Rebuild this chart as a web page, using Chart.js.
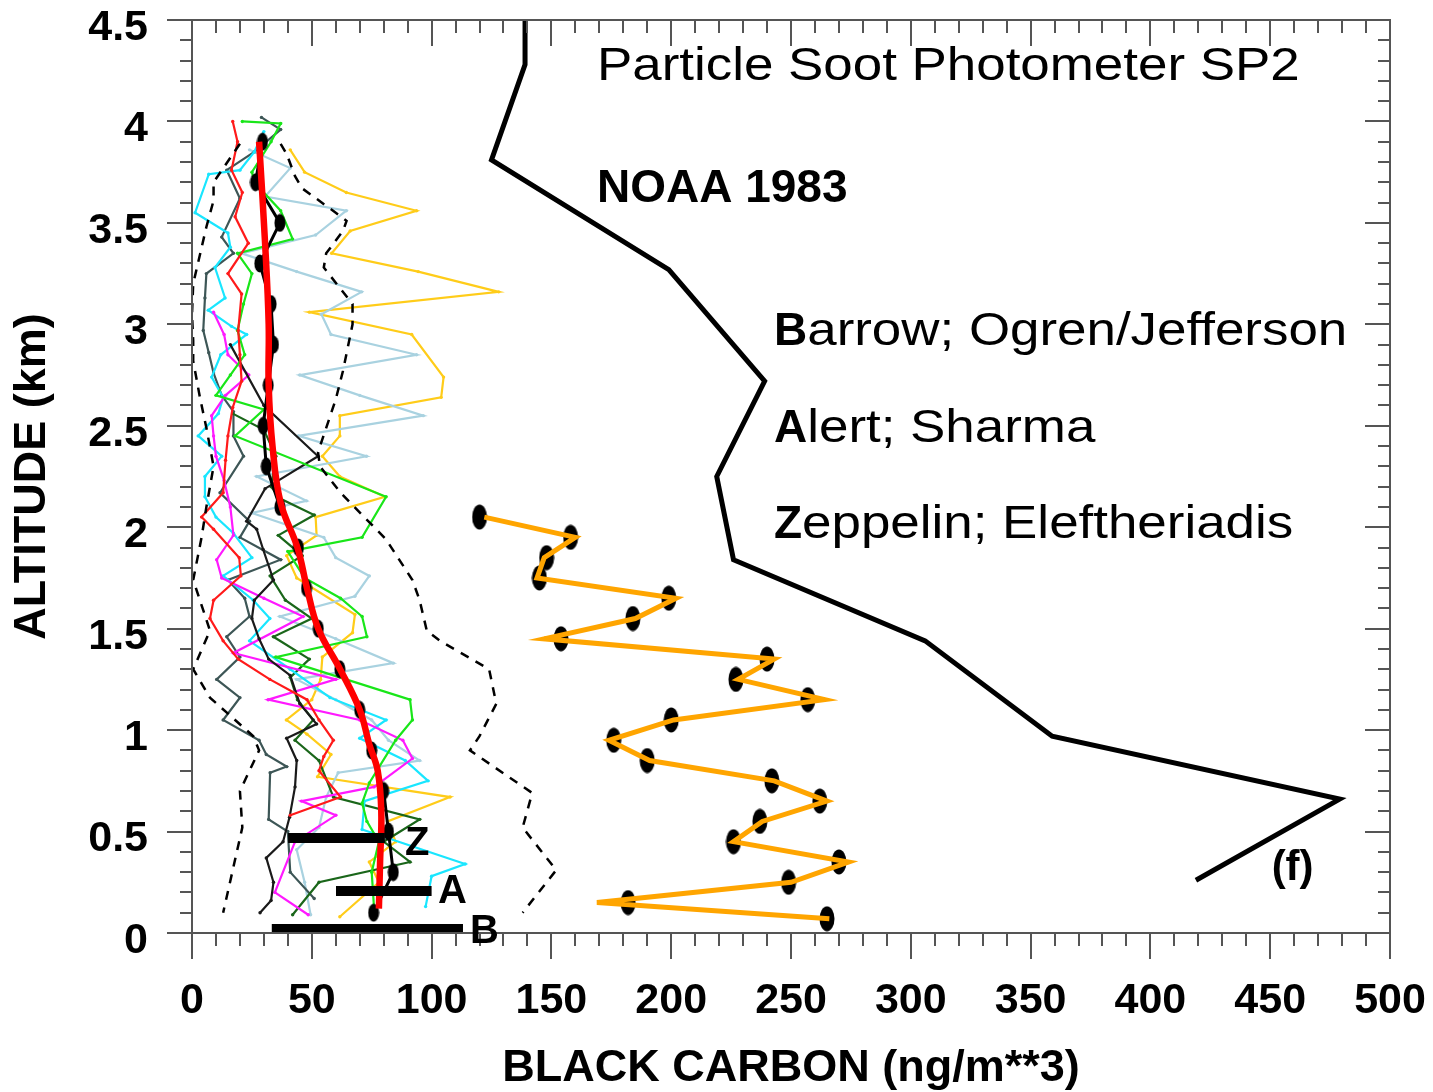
<!DOCTYPE html>
<html lang="en">
<head>
<meta charset="UTF-8">
<title>Black carbon profiles</title>
<style>
    html, body { margin: 0; padding: 0; background: #fff; }
    #bcChart { display: block; }
</style>
</head>
<body>
<canvas id="bcChart" width="1433" height="1092"></canvas>
<script src="https://cdn.jsdelivr.net/npm/chart.js@4.4.0/dist/chart.umd.min.js"></script>
<script>
// each profile is a list of [black carbon (ng/m3), altitude (km)]
const redProfile = [[17,4.0],[19,3.9],[16.5,3.76],[21,3.65],[18,3.53],[23.5,3.4],[15,3.25],[20.7,3.15],[19.3,2.97],[20,2.85],[20.7,2.72],[17,2.59],[15,2.45],[14,2.33],[13,2.17],[4,2.05],[9,1.99],[19.7,1.85],[20.4,1.76],[9,1.64],[7.5,1.55],[13,1.44],[19.3,1.35],[32.5,1.25],[48,1.15],[53,1.05],[59,0.95],[55,0.87],[53,0.8],[62,0.67],[41,0.58]];
const greenProfile = [[21,4.0],[37,3.99],[33,3.9],[25,3.75],[26,3.7],[37,3.56],[42,3.42],[19,3.35],[25,3.25],[21.5,3.1],[19,2.97],[22,2.85],[16,2.75],[10,2.65],[30,2.58],[18,2.45],[81,2.15],[71,1.95],[40,1.88],[47,1.75],[62,1.65],[71,1.56],[73,1.46],[35,1.36],[91,1.15],[92,1.05],[85,0.95],[74,0.74],[71,0.64],[73,0.55],[78,0.45],[75,0.3],[76,0.12]];
const slateProfile = [[29,4.02],[37,3.96],[26,3.85],[14.5,3.76],[20,3.62],[12.4,3.43],[17.3,3.35],[6,3.25],[5.4,3.13],[4.7,2.97],[7,2.86],[9,2.76],[12.4,2.65],[17.3,2.57],[17.3,2.45],[21.5,2.35],[11.7,2.17],[24,2.03],[20,1.95],[37,1.84],[15,1.74],[22,1.65],[24,1.56],[14.5,1.46],[20,1.36],[10.3,1.25],[20,1.16],[13,1.05],[28,0.95],[31,0.88],[39.5,0.82],[32.6,0.79],[32,0.56],[40,0.5],[41,0.3],[51,0.17]];
const cyanProfile = [[30,3.95],[26,3.85],[20,3.76],[7,3.74],[1.3,3.55],[15,3.45],[16,3.38],[9.6,3.28],[13.8,3.13],[6.8,3.07],[16.5,2.99],[22.8,2.95],[12,2.85],[8.2,2.74],[13,2.64],[11,2.56],[2.6,2.45],[12.4,2.35],[5.4,2.25],[5.4,2.15],[10,2.05],[17.3,1.97],[25,1.85],[13,1.76],[25.6,1.64],[32.5,1.55],[24,1.44],[41,1.3],[57.6,1.16],[81,1.05],[70,0.96],[89,0.85],[98.5,0.75],[72,0.65],[71,0.51],[114,0.34],[100,0.28],[97.5,0.13]];
const lightBlueProfile = [[24,3.86],[41,3.77],[30.5,3.63],[64.4,3.56],[51.6,3.44],[20.7,3.35],[43.7,3.26],[70.8,3.16],[54,3.05],[58,2.95],[93.7,2.85],[45,2.75],[70,2.65],[96.5,2.55],[44.4,2.45],[72.8,2.35],[27,2.25],[47.8,2.13],[25,2.07],[55,1.95],[60,1.85],[74,1.76],[68,1.66],[36.7,1.56],[60,1.45],[84,1.33],[43.7,1.25],[60,1.15],[75,1.05],[82,0.95],[95,0.85],[61,0.79],[56,0.67],[53,0.52],[43.7,0.41],[47,0.25],[49.5,0.09]];
const goldProfile = [[41,3.86],[47,3.75],[64.4,3.65],[93.7,3.56],[66,3.46],[58.3,3.35],[94.4,3.26],[128,3.16],[49,3.06],[91.7,2.95],[105,2.74],[104,2.64],[61.7,2.55],[61.7,2.45],[54.4,2.35],[61.7,2.25],[80.5,2.15],[51.6,2.05],[52,1.96],[39.5,1.86],[43.7,1.75],[68,1.57],[67,1.48],[54.4,1.36],[53.7,1.25],[50,1.15],[39.4,1.05],[48,0.98],[58,0.88],[52.4,0.77],[107.7,0.67],[81.6,0.55],[85,0.45],[74,0.35],[78,0.25],[61.7,0.08]];
const magentaProfile = [[9,3.06],[13.4,2.95],[15,2.85],[23.7,2.75],[14,2.65],[8.2,2.55],[9,2.45],[10,2.35],[13.4,2.23],[16,2.1],[17.3,1.96],[10.3,1.84],[12.4,1.75],[30,1.65],[46.4,1.56],[17.3,1.38],[60,1.25],[31.8,1.15],[70,1.05],[88,0.95],[92,0.86],[76,0.72],[45.7,0.65],[60,0.58],[43,0.45],[34.6,0.2],[48.5,0.09]];
const blackProfile = [[16,2.9],[30,2.6],[52.6,2.35],[30.5,2.19],[22.8,2.03],[27,1.99],[29.7,1.89],[34,1.74],[26,1.64],[25,1.55],[28,1.45],[32,1.35],[41,1.27],[45,1.13],[52,1.03],[39.5,0.96],[43.7,0.85],[43,0.72],[40.7,0.57],[38,0.45],[31,0.37],[34,0.25],[33,0.16],[28.4,0.1]];
const darkGreenProfile = [[17,2.56],[30,2.48],[35,2.35],[33,2.2],[37,2.14],[51,2.06],[36,1.96],[46,1.86],[32.6,1.76],[39,1.64],[50,1.55],[34,1.46],[49,1.35],[41,1.26],[44,1.15],[50.6,1.05],[43,0.95],[53,0.85],[59,0.67],[95,0.56],[80,0.45],[91,0.35],[53,0.25],[42,0.09]];

const envelopeLow = [[20,3.89],[9,3.7],[9,3.61],[6,3.48],[0.5,3.2],[0,3.05],[0.5,2.92],[0.5,2.82],[3.3,2.64],[6,2.49],[9,2.3],[6,2.1],[4,1.95],[0.5,1.74],[5,1.58],[7.5,1.49],[0.5,1.3],[7.5,1.16],[25.6,0.97],[28,0.9],[20,0.7],[21,0.52],[13,0.1]];
const envelopeHigh = [[37,3.89],[39.5,3.84],[43,3.73],[46,3.67],[60,3.55],[64.5,3.51],[63,3.46],[56,3.35],[55,3.28],[67,3.1],[67,3.0],[63,2.77],[60,2.63],[52.6,2.37],[53.4,2.3],[62,2.17],[81,1.94],[92,1.74],[95,1.64],[98,1.49],[103.5,1.44],[124,1.3],[127,1.13],[120,0.97],[116,0.9],[142,0.69],[138,0.52],[152,0.31],[138,0.1]];

const medianProfile = [[29.4,3.9],[26.5,3.7],[36.7,3.5],[28.3,3.3],[33,3.1],[34,2.9],[31.8,2.7],[29.7,2.5],[31,2.3],[36.7,2.1],[44.4,1.9],[47.8,1.7],[52.7,1.5],[61.7,1.3],[70,1.1],[75,0.9],[80,0.7],[82,0.5],[84,0.3],[75.8,0.1]];
const meanProfile = [[28,3.9],[30.5,3.4],[32,3.0],[32,2.7],[33.6,2.4],[37,2.12],[44,1.9],[48,1.7],[52.7,1.5],[61.8,1.3],[70,1.1],[74,0.93],[77.5,0.8],[79,0.6],[78.5,0.35],[78,0.12]];

const noaaLine = [[122,2.05],[160,1.95],[147,1.85],[144,1.75],[202,1.65],[185,1.55],[147,1.45],[243,1.35],[228,1.25],[264,1.15],[201,1.05],[174,0.95],[191,0.85],[243,0.75],[265,0.65],[238,0.55],[226,0.45],[274,0.35],[250,0.25],[169,0.15],[266,0.07]];
const noaaDots = [[120,2.05],[158,1.95],[148,1.85],[145,1.75],[199,1.65],[184,1.55],[154,1.45],[240,1.35],[227,1.25],[257,1.15],[200,1.05],[176,0.95],[190,0.85],[242,0.75],[262,0.65],[237,0.55],[226,0.45],[270,0.35],[249,0.25],[182,0.15],[265,0.07]];
const noaa1983 = [[139,4.52],[139,4.28],[125,3.81],[199,3.27],[239,2.72],[219,2.25],[226,1.84],[306,1.44],[359,0.97],[479,0.66],[419,0.26]];

const zeppelinRange = [[40.1,0.468],[80.5,0.468]];
const alertRange = [[60.1,0.207],[100,0.207]];
const barrowRange = [[33.3,0.02],[113.1,0.02]];

const FONT = '"Liberation Sans", Arial, Helvetica, sans-serif';
Chart.defaults.font.family = FONT;
Chart.defaults.color = '#000';

const pts = arr => arr.map(([x, y]) => ({ x, y }));

function ellipseDot(w, h) {
    const c = document.createElement('canvas');
    c.width = w; c.height = h;
    const g = c.getContext('2d');
    g.fillStyle = '#000';
    g.beginPath();
    g.ellipse(w / 2, h / 2, w / 2 - 0.5, h / 2 - 0.5, 0, 0, Math.PI * 2);
    g.fill();
    return c;
}

function lineSet(data, color, width, extra) {
    return Object.assign({
        data: pts(data),
        showLine: true,
        borderColor: color,
        backgroundColor: color,
        borderWidth: width,
        pointRadius: 0,
        pointHoverRadius: 0,
        tension: 0
    }, extra || {});
}

function thin(data, color) {
    return lineSet(data, color, 2.2, { pointRadius: 1.7, pointBorderWidth: 0, pointBackgroundColor: color });
}

// first in the list is drawn on top
const datasets = [
    lineSet(barrowRange, '#000', 10, { clip: false }),
    lineSet(alertRange, '#000', 10, { clip: false }),
    lineSet(zeppelinRange, '#000', 10, { clip: false }),
    lineSet(noaa1983, '#000', 5, { borderJoinStyle: 'miter' }),
    lineSet(noaaLine, '#ffa500', 5),
    { data: pts(noaaDots), showLine: false, pointStyle: ellipseDot(16, 26), pointRadius: 8, pointHoverRadius: 8 },
    lineSet(meanProfile, '#ff0000', 6.5, { tension: 0.4 }),
    { data: pts(medianProfile), showLine: false, pointStyle: ellipseDot(12, 19), pointRadius: 6, pointHoverRadius: 6 },
    lineSet(medianProfile, '#000', 3),
    lineSet(envelopeLow, '#000', 2.5, { borderDash: [9, 8] }),
    lineSet(envelopeHigh, '#000', 2.5, { borderDash: [9, 8] }),
    thin(redProfile, '#ff1a1a'),
    thin(greenProfile, '#19e619'),
    thin(blackProfile, '#1a1a1a'),
    thin(magentaProfile, '#ff19ff'),
    thin(cyanProfile, '#19e6ff'),
    thin(darkGreenProfile, '#1a661a'),
    thin(slateProfile, '#3d5656'),
    thin(lightBlueProfile, '#a9d2e0'),
    thin(goldProfile, '#ffcc19')
];

const framePlugin = {
    id: 'frame',
    afterDatasetsDraw(chart) {
        const { ctx, chartArea: a, scales: { x, y } } = chart;
        ctx.save();
        ctx.strokeStyle = '#555';
        ctx.lineWidth = 2;
        ctx.strokeRect(a.left, a.top, a.right - a.left, a.bottom - a.top);
        ctx.beginPath();
        for (let v = 0; v <= 500; v += 10) {
            const px = Math.round(x.getPixelForValue(v));
            const len = v % 50 === 0 ? 26 : 13;
            ctx.moveTo(px, a.top); ctx.lineTo(px, a.top + len);
            ctx.moveTo(px, a.bottom); ctx.lineTo(px, a.bottom + len);
        }
        for (let i = 0; i <= 45; i++) {
            const py = Math.round(y.getPixelForValue(i / 10));
            const len = i % 5 === 0 ? 25 : 12;
            ctx.moveTo(a.left - len, py); ctx.lineTo(a.left, py);
            ctx.moveTo(a.right - len, py); ctx.lineTo(a.right, py);
        }
        ctx.stroke();
        ctx.restore();
    }
};

// text labels placed in data coordinates: [parts, x, y, size]
const notes = [
    [[['Particle Soot Photometer SP2', false]], 169, 4.204, 46],
    [[['NOAA 1983', true]], 169, 3.604, 46],
    [[['B', true], ['arrow; Ogren/Jefferson', false]], 242.9, 2.898, 46],
    [[['A', true], ['lert; Sharma', false]], 242.9, 2.421, 46],
    [[['Z', true], ['eppelin; Eleftheriadis', false]], 242.9, 1.947, 46],
    [[['(f)', true]], 450.6, 0.261, 42],
    [[['Z', true]], 88.9, 0.384, 40],
    [[['A', true]], 102.7, 0.148, 40],
    [[['B', true]], 116, -0.049, 40]
];

const notesPlugin = {
    id: 'notes',
    afterDraw(chart) {
        const { ctx, scales: { x, y } } = chart;
        ctx.save();
        ctx.fillStyle = '#000';
        ctx.textBaseline = 'alphabetic';
        ctx.textAlign = 'left';
        notes.forEach(([parts, vx, vy, size]) => {
            let px = x.getPixelForValue(vx);
            const py = y.getPixelForValue(vy);
            parts.forEach(([text, bold]) => {
                ctx.font = (bold ? 'bold ' : '') + size + 'px ' + FONT;
                const stretch = bold ? 1 : 1.15;
                ctx.save();
                ctx.translate(px, py);
                ctx.scale(stretch, 1);
                ctx.fillText(text, 0, 0);
                ctx.restore();
                px += ctx.measureText(text).width * stretch;
            });
        });
        ctx.restore();
    }
};

new Chart(document.getElementById('bcChart').getContext('2d'), {
    type: 'scatter',
    data: { datasets: datasets },
    options: {
        responsive: false,
        animation: false,
        devicePixelRatio: 1,
        events: [],
        layout: { autoPadding: false, padding: { top: 20, right: 43, left: 0, bottom: 0 } },
        plugins: { legend: { display: false }, tooltip: { enabled: false } },
        scales: {
            x: {
                type: 'linear',
                min: 0, max: 500,
                // grid hidden; tickLength only pushes the labels down
                grid: { display: false, drawTicks: true, tickLength: 49 },
                border: { display: false },
                ticks: {
                    stepSize: 50,
                    padding: 0,
                    maxRotation: 0,
                    autoSkip: false,
                    font: { size: 43, weight: 'bold', lineHeight: 0.9 }
                },
                title: {
                    display: true,
                    text: 'BLACK CARBON (ng/m**3)',
                    font: { size: 45, weight: 'bold', lineHeight: 1 },
                    padding: { top: 0, bottom: 1 }
                },
                afterFit(scale) { scale.height = 159; }
            },
            y: {
                type: 'linear',
                min: 0, max: 4.5,
                grid: { display: false, drawTicks: true, tickLength: 44 },
                border: { display: false },
                ticks: {
                    stepSize: 0.5,
                    padding: 0,
                    labelOffset: 8,
                    autoSkip: false,
                    font: { size: 43, weight: 'bold', lineHeight: 0.9 },
                    callback: v => String(Math.round(v * 10) / 10)
                },
                title: {
                    display: true,
                    text: 'ALTITUDE (km)',
                    font: { size: 45, weight: 'bold', lineHeight: 1 },
                    padding: { top: 10, bottom: 0 }
                },
                afterFit(scale) { scale.width = 192; }
            }
        }
    },
    plugins: [framePlugin, notesPlugin]
});
</script>
</body>
</html>
